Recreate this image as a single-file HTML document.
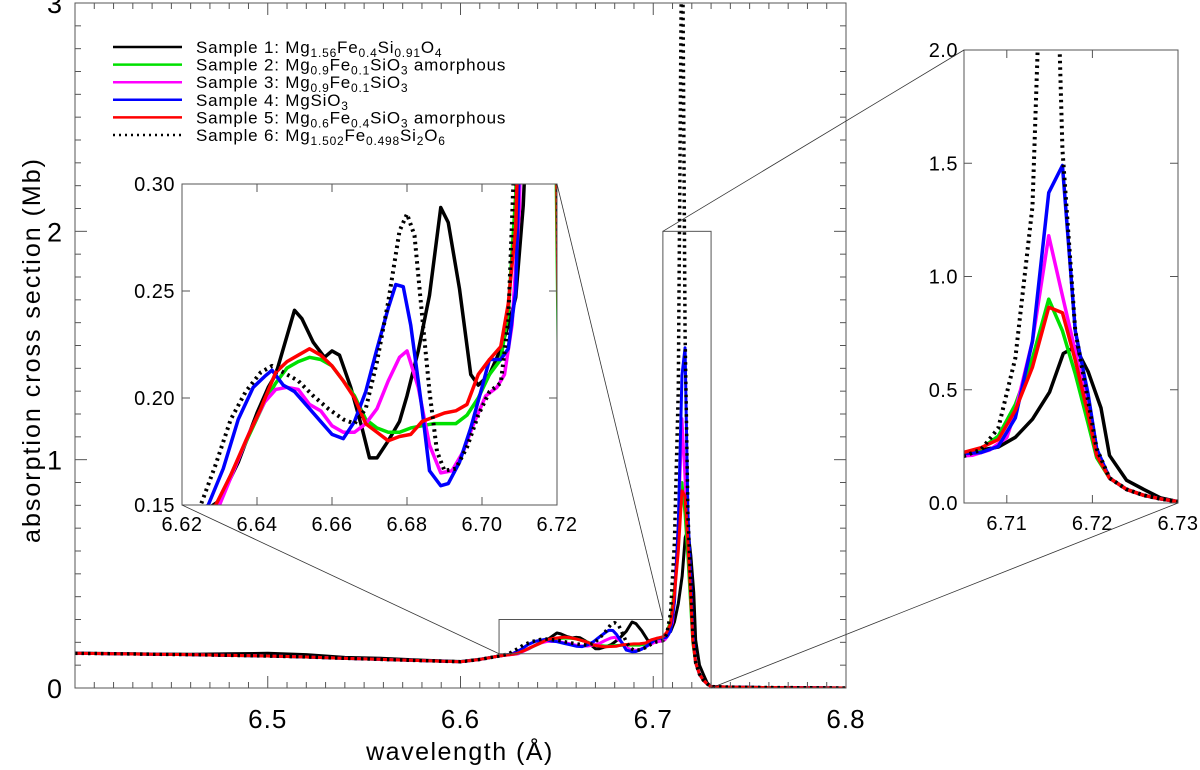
<!DOCTYPE html>
<html><head><meta charset="utf-8"><style>
html,body{margin:0;padding:0;background:#fff;overflow:hidden;}
svg{display:block;}
svg text{font-family:"Liberation Sans",sans-serif;fill:#000;}
</style></head><body>
<svg id="c" width="1200" height="770" xmlns="http://www.w3.org/2000/svg"></svg>
<script>
// ---- data ----
const baseWl = [6.40,6.42,6.44,6.46,6.48,6.50,6.52,6.54,6.56,6.58,6.60,6.61,6.62];
const baseVal = [0.152,0.150,0.148,0.146,0.143,0.140,0.136,0.130,0.125,0.120,0.115,0.125,0.14];
const blackBase = [0.153,0.151,0.149,0.148,0.150,0.152,0.146,0.134,0.130,0.122,0.116,0.126,0.14];
const tailWl = [6.722,6.724,6.726,6.728,6.730,6.74,6.76,6.80];
const tailVal = [0.11,0.06,0.034,0.018,0.006,0.004,0.002,0.0];
const blackTail = [0.21,0.10,0.06,0.022,0.006,0.004,0.002,0.0];

const s1Wl = [6.63,6.635,6.64,6.643,6.645,6.650,6.652,6.655,6.658,6.660,6.662,6.665,6.668,6.670,6.672,6.675,6.678,6.680,6.683,6.686,6.689,6.691,6.694,6.697,6.699,6.702,6.705,6.707,6.709,6.711,6.713,6.715,6.7166,6.718,6.7195,6.721];
const s1Val = [0.152,0.17,0.193,0.205,0.211,0.241,0.237,0.226,0.219,0.222,0.220,0.205,0.186,0.172,0.172,0.18,0.189,0.201,0.222,0.248,0.289,0.282,0.251,0.211,0.206,0.211,0.223,0.234,0.247,0.29,0.37,0.49,0.66,0.69,0.58,0.42];
const s2Wl = [6.6293,6.6338,6.638,6.642,6.645,6.648,6.651,6.654,6.657,6.66,6.663,6.666,6.669,6.672,6.675,6.678,6.681,6.684,6.687,6.69,6.693,6.696,6.699,6.702,6.705,6.707,6.709,6.711,6.713,6.7149,6.7165,6.718,6.7195,6.7205];
const s2Val = [0.15,0.167,0.183,0.198,0.207,0.214,0.217,0.219,0.218,0.215,0.208,0.201,0.19,0.186,0.184,0.184,0.186,0.187,0.188,0.188,0.188,0.192,0.2,0.211,0.218,0.24,0.295,0.435,0.64,0.90,0.76,0.57,0.35,0.2];
const s3Wl = [6.630,6.634,6.638,6.642,6.645,6.648,6.651,6.654,6.657,6.66,6.663,6.666,6.669,6.672,6.675,6.678,6.68,6.683,6.686,6.689,6.692,6.695,6.698,6.701,6.704,6.706,6.708,6.710,6.711,6.713,6.7149,6.7165,6.718,6.7195,6.7205];
const s3Val = [0.15,0.167,0.184,0.198,0.204,0.205,0.204,0.197,0.194,0.187,0.184,0.184,0.188,0.195,0.208,0.219,0.222,0.205,0.178,0.165,0.166,0.175,0.189,0.201,0.205,0.211,0.234,0.289,0.405,0.715,1.18,0.915,0.67,0.42,0.22];
const s4Wl = [6.627,6.631,6.635,6.639,6.642,6.644,6.647,6.650,6.654,6.657,6.660,6.663,6.666,6.669,6.672,6.675,6.677,6.679,6.681,6.684,6.686,6.689,6.691,6.694,6.697,6.700,6.702,6.705,6.707,6.709,6.711,6.713,6.7149,6.7165,6.718,6.7195,6.7205];
const s4Val = [0.15,0.167,0.19,0.205,0.21,0.213,0.206,0.203,0.195,0.189,0.183,0.181,0.189,0.203,0.223,0.242,0.253,0.252,0.234,0.195,0.166,0.159,0.16,0.17,0.186,0.205,0.218,0.218,0.223,0.25,0.376,0.715,1.37,1.49,0.76,0.48,0.24];
const s5Wl = [6.629,6.633,6.637,6.641,6.645,6.648,6.651,6.654,6.657,6.66,6.663,6.666,6.669,6.672,6.675,6.678,6.681,6.684,6.687,6.69,6.693,6.696,6.699,6.702,6.705,6.707,6.709,6.711,6.713,6.7149,6.7165,6.718,6.7195,6.7205];
const s5Val = [0.15,0.164,0.18,0.195,0.212,0.217,0.22,0.223,0.22,0.215,0.208,0.2,0.188,0.184,0.18,0.182,0.183,0.189,0.191,0.193,0.194,0.197,0.211,0.218,0.224,0.244,0.28,0.41,0.6,0.864,0.84,0.63,0.39,0.21];
const s6Wl = [6.625,6.629,6.633,6.637,6.641,6.644,6.647,6.651,6.655,6.659,6.663,6.666,6.669,6.672,6.675,6.678,6.680,6.682,6.684,6.686,6.688,6.690,6.693,6.696,6.699,6.702,6.705,6.707,6.709,6.711,6.713,6.715,6.7165,6.718,6.7195,6.7205];
const s6Val = [0.15,0.169,0.19,0.203,0.212,0.215,0.212,0.208,0.201,0.195,0.19,0.188,0.195,0.217,0.245,0.278,0.286,0.276,0.239,0.203,0.175,0.166,0.167,0.177,0.192,0.203,0.207,0.236,0.33,0.64,1.31,3.6,1.56,0.76,0.45,0.24];

const seriesNames = ['sample-1','sample-2','sample-3','sample-4','sample-5','sample-6'];
const seriesColors = ['#000','#00e000','#ff00ff','#0000ff','#ff0000','#000'];
const wls = [s1Wl,s2Wl,s3Wl,s4Wl,s5Wl,s6Wl];
const vals = [s1Val,s2Val,s3Val,s4Val,s5Val,s6Val];

const NS='http://www.w3.org/2000/svg';
const svg=document.getElementById('c');
function mk(tag,attrs,parent){const e=document.createElementNS(NS,tag);for(const k in attrs)e.setAttribute(k,attrs[k]);(parent||svg).appendChild(e);return e;}

const defs=mk('defs',{});
function panel(name,x0,x1,y0,y1,L,R,T,B){
  const sx=w=>L+(w-x0)/(x1-x0)*(R-L);
  const sy=v=>B-(v-y0)/(y1-y0)*(B-T);
  const cp=mk('clipPath',{id:'cp-'+name},defs);
  mk('rect',{x:L,y:T,width:R-L,height:B-T},cp);
  return {sx,sy,L,R,T,B,name};
}
function drawSeries(p,sw,dotW){
  const g=mk('g',{'clip-path':'url(#cp-'+p.name+')'});
  
  
  for(let i=0;i<6;i++){
    const base=i===0?blackBase:baseVal;
    const tail=i===0?blackTail:tailVal;
    const W=baseWl.concat(wls[i],tailWl), V=base.concat(vals[i],tail);
    let d='';
    W.forEach((w,j)=>{d+=(j?'L':'M')+p.sx(w).toFixed(2)+','+p.sy(V[j]).toFixed(2);});
    const path=mk('path',{d,fill:'none',stroke:seriesColors[i],'stroke-width':i===5?dotW:sw,'stroke-linejoin':'round'},g);
    if(i===5){path.setAttribute('stroke-dasharray','2.5 4');}
    
    
  }
}
function frame(p){
  const r=mk('rect',{x:p.L,y:p.T,width:p.R-p.L,height:p.B-p.T,fill:'none',stroke:'#555','stroke-width':1});
  
  
}
function tick(x1,y1,x2,y2){mk('line',{x1,y1,x2,y2,stroke:'#555','stroke-width':1});}
function label(x,y,t,size,anchor,name,ls){
  const e=mk('text',{x,y,'font-size':size,'text-anchor':anchor});e.textContent=t;
  if(ls)e.setAttribute('letter-spacing',ls);
  
  
  return e;
}

// main panel
const mainXTicks=[6.5,6.6,6.7,6.8];
const mainYTicks=[0,1,2,3];
const pm=panel('main',6.4,6.8,0,3,75,846,3,688);
drawSeries(pm,3,3.5);
frame(pm);
for(let k=1;k<40;k++){const w=6.4+k*0.01;const x=pm.sx(w);const L=(k%10===0)?12:6;tick(x,688,x,688-L);tick(x,3,x,3+L);}
for(let k=1;k<30;k++){const y=pm.sy(k*0.1);const L=(k%10===0)?12:6;tick(75,y,75+L,y);tick(846,y,846-L,y);}
mainXTicks.forEach(t=>label(pm.sx(t),728,t.toFixed(1),26,'middle','x-tick-label','1'));
mainYTicks.forEach(t=>label(62,pm.sy(t)+10,String(t),27,'end','y-tick-label'));
label(460,760,'wavelength (Å)',25,'middle','x-axis-title','1.5');
const yt=label(0,0,'absorption cross section (Mb)',25,'middle','y-axis-title','2');
yt.setAttribute('transform','translate(40,350) rotate(-90)');

// zoom boxes on main
function box(x0,x1,y0,y1,name){const r=mk('rect',{x:pm.sx(x0),y:pm.sy(y1),width:pm.sx(x1)-pm.sx(x0),height:pm.sy(y0)-pm.sy(y1),fill:'none',stroke:'#555','stroke-width':1});}
box(6.62,6.705,0.15,0.30,'zoom-box-1');
box(6.705,6.73,0,2,'zoom-box-2');

// inset 1
const p1=panel('inset1',6.62,6.72,0.15,0.30,182,557,184,505);
mk('rect',{x:182,y:184,width:375,height:321,fill:'#fff'});
drawSeries(p1,3.5,4);
frame(p1);
const in1X=[6.62,6.64,6.66,6.68,6.70,6.72];
const in1Y=[0.15,0.20,0.25,0.30];
in1X.forEach(t=>{const x=p1.sx(t);tick(x,505,x,497);tick(x,184,x,192);label(x,531,t.toFixed(2),20,'middle','inset1-x-tick-label','0.5');});
in1Y.forEach(t=>{const y=p1.sy(t);tick(182,y,190,y);tick(557,y,549,y);label(175,y+7,t.toFixed(2),20,'end','inset1-y-tick-label','0.5');});

// inset 2
const p2=panel('inset2',6.705,6.73,0,2,964,1178,50,503);
drawSeries(p2,3.5,4);
frame(p2);
const in2X=[6.71,6.72,6.73];
const in2Y=[0,0.5,1.0,1.5,2.0];
in2X.forEach(t=>{const x=p2.sx(t);tick(x,503,x,495);tick(x,50,x,58);label(x,530,t.toFixed(2),20,'middle','inset2-x-tick-label','0.5');});
in2Y.forEach(t=>{const y=p2.sy(t);tick(964,y,972,y);tick(1178,y,1170,y);label(958,y+7,t.toFixed(1),20,'end','inset2-y-tick-label','0.5');});

// connectors
[[pm.sx(6.62),pm.sy(0.15),182,505],[pm.sx(6.705),pm.sy(0.30),557,184],[pm.sx(6.705),pm.sy(2),964,50],[pm.sx(6.73),pm.sy(0),1178,503]].forEach(c=>{
  const l=mk('line',{x1:c[0],y1:c[1],x2:c[2],y2:c[3],stroke:'#333','stroke-width':0.8});
  
  
});

// legend
const legendRows=[
 ['Sample 1: ',[['Mg',''],['1.56','s'],['Fe',''],['0.4','s'],['Si',''],['0.91','s'],['O',''],['4','s']]],
 ['Sample 2: ',[['Mg',''],['0.9','s'],['Fe',''],['0.1','s'],['SiO',''],['3','s'],[' amorphous','']]],
 ['Sample 3: ',[['Mg',''],['0.9','s'],['Fe',''],['0.1','s'],['SiO',''],['3','s']]],
 ['Sample 4: ',[['MgSiO',''],['3','s']]],
 ['Sample 5: ',[['Mg',''],['0.6','s'],['Fe',''],['0.4','s'],['SiO',''],['3','s'],[' amorphous','']]],
 ['Sample 6: ',[['Mg',''],['1.502','s'],['Fe',''],['0.498','s'],['Si',''],['2','s'],['O',''],['6','s']]]
];
const lg=mk('g',{});


legendRows.forEach((r,i)=>{
  const y=47+i*17.6;
  const ln=mk('line',{x1:113,y1:y,x2:182,y2:y,stroke:seriesColors[i],'stroke-width':2.5},lg);
  if(i===5)ln.setAttribute('stroke-dasharray','2 4');
  
  
  const t=mk('text',{x:196,y:y+6,'font-size':17,'letter-spacing':'0.8'},lg);
  
  
  const a=document.createElementNS(NS,'tspan');a.textContent=r[0];t.appendChild(a);
  r[1].forEach(p=>{const s=document.createElementNS(NS,'tspan');s.textContent=p[0];
    if(p[1]==='s'){s.setAttribute('font-size','12');s.setAttribute('baseline-shift','-4');}
    t.appendChild(s);
  });
});
</script>
</body></html>
